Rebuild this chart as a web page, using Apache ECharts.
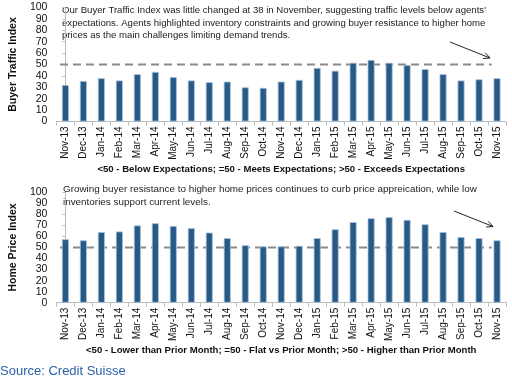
<!DOCTYPE html>
<html>
<head>
<meta charset="utf-8">
<script src="https://cdn.jsdelivr.net/npm/echarts@6/dist/echarts.min.js"></script>
<style>
html,body{margin:0;padding:0;background:#fff;}
#c{width:512px;height:383px;}
</style>
</head>
<body>
<div id="c"></div>
<script>
var months = ['Nov-13','Dec-13','Jan-14','Feb-14','Mar-14','Apr-14','May-14','Jun-14','Jul-14','Aug-14','Sep-14','Oct-14','Nov-14','Dec-14','Jan-15','Feb-15','Mar-15','Apr-15','May-15','Jun-15','Jul-15','Aug-15','Sep-15','Oct-15','Nov-15'];
var buyerTraffic = [32,35.5,38,36,41.5,43.5,39,36,34.5,35,30,29.5,35,36.5,47,44.5,51.5,54,51.5,49.5,46,41.5,36,37,38];
var homePrice = [57.5,56.5,64,64.5,70,72,69.5,67.5,63.5,58.5,52,51,51,51.5,58.5,66.5,73,76.5,77.5,75,71,64,59.5,58.5,56.5];
var yTicks = {min:0, max:100, interval:10};
var refLevel = 50;
var refLineX = [-0.3, 23.7];

var topNote = ["Our Buyer Traffic Index was little changed at 38 in November, suggesting traffic levels below agents'",
  "expectations. Agents highlighted inventory constraints and growing buyer resistance to higher home",
  "prices as the main challenges limiting demand trends."];
var bottomNote = ["Growing buyer resistance to higher home prices continues to curb price appreication, while low",
  "inventories support current levels."];
var topAxisName = '<50 - Below Expectations; =50 - Meets Expectations; >50 - Exceeds Expectations';
var bottomAxisName = '<50 - Lower than Prior Month; =50 - Flat vs Prior Month; >50 - Higher than Prior Month';

var FONT = '"Liberation Sans", Arial, sans-serif';
var barColor = '#285a88';
var axisColor = '#bdbdbd';

var chart = echarts.init(document.getElementById('c'), null, {renderer:'canvas'});

function catAxis(gridIndex, name){
  return {
    type:'category', gridIndex:gridIndex, data:months,
    name:name, nameLocation:'middle', nameGap:43,
    nameTextStyle:{fontFamily:FONT, fontSize:9.6, fontWeight:'bold', color:'#111'},
    axisLine:{lineStyle:{color:axisColor}},
    axisTick:{show:true, length:4, lineStyle:{color:axisColor}},
    axisLabel:{rotate:90, fontFamily:FONT, fontSize:10, color:'#111', margin:5, interval:0},
    splitLine:{show:false}
  };
}
function refAxis(gridIndex){
  return {type:'value', gridIndex:gridIndex, min:-0.5, max:months.length-0.5, show:false};
}
function valAxis(gridIndex, name){
  return {
    type:'value', gridIndex:gridIndex, min:yTicks.min, max:yTicks.max, interval:yTicks.interval,
    name:name, nameLocation:'middle', nameGap:28,
    nameTextStyle:{fontFamily:FONT, fontSize:10.5, fontWeight:'bold', color:'#111'},
    axisLine:{show:true, lineStyle:{color:axisColor}},
    axisTick:{show:true, length:3, lineStyle:{color:axisColor}},
    axisLabel:{fontFamily:FONT, fontSize:10.5, color:'#111', margin:9},
    splitLine:{show:false}
  };
}
function bars(idx, data){
  return {type:'bar', xAxisIndex:idx*2, yAxisIndex:idx, data:data, barWidth:7, z:3,
    itemStyle:{color:barColor, borderColor:'#aac2da', borderWidth:0.8}, silent:true};
}
function refLine(idx){
  return {type:'line', xAxisIndex:idx*2+1, yAxisIndex:idx, z:2, symbol:'none', silent:true,
    data:[[refLineX[0], refLevel],[refLineX[1], refLevel]],
    lineStyle:{color:'#8a8a8a', width:2, type:[8,5]}};
}
function arrow(x1,y1,x2,y2){
  var ang = Math.atan2(y2-y1, x2-x1), L=7, a=0.45;
  return {type:'group', children:[
    {type:'line', shape:{x1:x1,y1:y1,x2:x2,y2:y2}, style:{stroke:'#222', lineWidth:1}},
    {type:'polyline', shape:{points:[[x2-L*Math.cos(ang-a), y2-L*Math.sin(ang-a)],[x2,y2],[x2-L*Math.cos(ang+a), y2-L*Math.sin(ang+a)]]}, style:{stroke:'#222', lineWidth:1, fill:null}}
  ]};
}
function note(lines, x, y, size){
  return {type:'text', left:x, top:y, style:{text:lines.join('\n'), font:size+'px '+FONT, fill:'#222', lineHeight:12.3}};
}

chart.setOption({
  animation:false,
  grid:[
    {left:50, right:6, top:7.5, height:114},
    {left:50, right:6, top:192.3, height:110.4}
  ],
  xAxis:[catAxis(0, topAxisName), refAxis(0), catAxis(1, bottomAxisName), refAxis(1)],
  yAxis:[valAxis(0,'Buyer Traffic Index'), valAxis(1,'Home Price Index')],
  series:[refLine(0), bars(0, buyerTraffic), refLine(1), bars(1, homePrice)],
  graphic:[
    note(topNote, 62, 4.5, 9.6),
    note(bottomNote, 63, 183.5, 9.9),
    arrow(450,42,490,58),
    arrow(454,211,493,226.5),
    {type:'text', left:0, top:365, style:{text:'Source: Credit Suisse', font:'13px '+FONT, fill:'#2a62a6'}}
  ]
});
</script>
</body>
</html>
